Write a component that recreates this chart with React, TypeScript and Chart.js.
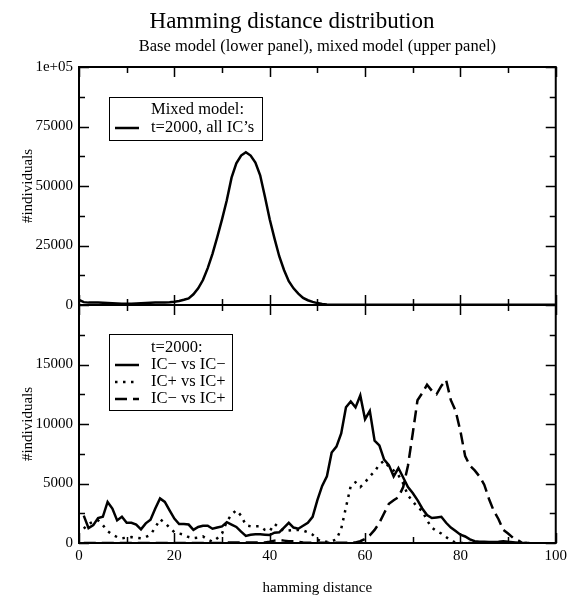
import React, { useEffect, useRef } from 'react';
import { Chart, registerables } from 'chart.js';

Chart.register(...registerables);

const FONT = "'Liberation Serif', 'Times New Roman', serif";

// hamming distance categories 0..100
const hamming: number[] = Array.from({ length: 101 }, (_, i) => i);

// Upper panel: mixed model, t=2000, all IC's
const mixedAll: (number | null)[] = [
  2200, 1200, 1000, 1100, 1000, 900, 800, 700, 600, 500,
  500, 500, 600, 700, 800, 900, 1000, 1000, 1100, 1200,
  1400, 1700, 2200, 2800, 4500, 7000, 10500, 15500, 21500, 28500,
  36000, 44000, 53500, 59500, 62800, 64200, 62800, 59800, 54500, 45500,
  36000, 28000, 20500, 14700, 10000, 7000, 4800, 3000, 2000, 1300,
  800, 400, 250, 150, 100, 100, 100, 100, 100, 100,
  100, 100, 100, 100, 100, 100, 100, 100, 100, 100,
  100, 100, 100, 100, 100, 100, 100, 100, 100, 100,
  100, 100, 100, 100, 100, 100, 100, 100, 100, 100,
  100, 100, 100, 100, 100, 100, 100, 100, 100, 100,
  100,
];

// Lower panel: base model, t=2000
const icMinusVsIcMinus: (number | null)[] = [
  null, 2300, 1250, 1500, 2100, 2200, 3450, 2900, 1900, 2200,
  1700, 1700, 1550, 1150, 1650, 1950, 2900, 3750, 3450, 2750,
  2050, 1600, 1600, 1550, 1100, 1350, 1450, 1450, 1200, 1300,
  1400, 1750, 1550, 1350, 950, 600, 700, 730, 730, 700,
  670, 870, 900, 1300, 1700, 1300, 1200, 1450, 1700, 2200,
  3600, 4800, 5600, 7600, 8100, 9200, 11400, 11900, 11400, 12400,
  10400, 11100, 8600, 8200, 7000, 6550, 5600, 6300, 5500, 4700,
  4200, 3600, 2900, 2350, 2100, 2150, 2200, 1700, 1300, 1000,
  700, 550, 300, 150, 100, 100, 80, 80, 100, 150,
  100, 60, 20, null, null, null, null, null, null, null,
  null,
];

const icPlusVsIcPlus: (number | null)[] = [
  null, 1200, 1600, 1800, 1900, 1500, 1000, 700, 500, 400,
  450, 500, 450, 400, 500, 700, 1300, 2000, 1700, 1300,
  900, 800, 700, 500, 400, 450, 550, 300, 100, 400,
  800, 1800, 2400, 2750, 2300, 1500, 1400, 1400, 1400, 1100,
  1000, 1600, 1300, 1000, 1050, 1100, 1100, 1050, 900, 700,
  300, 100, 100, 150, 300, 1200, 3000, 4800, 5100, 4700,
  5100, 5600, 6000, 6600, 6900, 6400, 6100, 5700, 5000, 4000,
  3500, 3000, 2700, 1900, 1300, 1000, 800, 500, 200, 50,
  0, 0, 0, 0, 0, 0, 0, 0, 0, 0,
  0, 0, 0, 0, 0, 0, null, null, null, null,
  null,
];

const icMinusVsIcPlus: (number | null)[] = [
  null, 0, 0, 0, 0, 0, 0, 0, 0, 0,
  0, 0, 0, 0, 0, 0, 0, 0, 0, 0,
  0, 0, 0, 0, 0, 0, 0, 0, 0, 0,
  0, 50, 50, 50, 50, 50, 50, 50, 50, 50,
  100, 200, 250, 200, 150, 150, 100, 50, 30, 30,
  30, 30, 30, 30, 30, 30, 30, 30, 50, 150,
  350, 650, 1100, 1700, 2500, 3300, 3600, 3850, 4700, 6500,
  9200, 12000, 12600, 13300, 12800, 12500, 13200, 13700, 12000, 11100,
  9400, 7300, 6500, 6100, 5600, 4900, 3700, 2700, 2000, 1100,
  800, 450, 250, 0, 0, 0, null, null, null, null,
  null,
];

const xTickValues = [0, 10, 20, 30, 40, 50, 60, 70, 80, 90, 100];
const upperTickValues = [0, 12500, 25000, 37500, 50000, 62500, 75000, 87500, 100000];
const lowerTickValues = [0, 2500, 5000, 7500, 10000, 12500, 15000, 17500, 20000];

const toPoints = (arr: (number | null)[]) => hamming.map((h, i) => ({ x: h, y: arr[i] }));

const decorPlugin = {
  id: 'decor',
  afterDraw(chart: any) {
    const ctx: CanvasRenderingContext2D = chart.ctx;
    const xs = chart.scales.x;
    const yU = chart.scales.yUpper;
    const yL = chart.scales.yLower;
    const L = xs.left;
    const R = xs.right;
    const cx = (L + R) / 2;
    ctx.save();
    ctx.fillStyle = '#000';
    ctx.strokeStyle = '#000';

    // ticks (inward, on all sides of both panels)
    ctx.lineWidth = 1.5;
    ctx.beginPath();
    const panels = [
      { sc: yU, vals: upperTickValues, major: 25000 },
      { sc: yL, vals: lowerTickValues, major: 5000 },
    ];
    for (const p of panels) {
      for (const v of xTickValues) {
        const px = Math.round(xs.getPixelForValue(v)) + 0.5;
        const len = v % 20 === 0 ? 10 : 6;
        ctx.moveTo(px, p.sc.top);
        ctx.lineTo(px, p.sc.top + len);
        ctx.moveTo(px, p.sc.bottom);
        ctx.lineTo(px, p.sc.bottom - len);
      }
      for (const v of p.vals) {
        const py = Math.round(p.sc.getPixelForValue(v)) + 0.5;
        const len = v % p.major === 0 ? 10 : 6;
        ctx.moveTo(L, py);
        ctx.lineTo(L + len, py);
        ctx.moveTo(R, py);
        ctx.lineTo(R - len, py);
      }
    }
    ctx.stroke();

    // frames
    ctx.lineWidth = 2;
    ctx.strokeRect(L, yU.top, R - L, yU.bottom - yU.top);
    ctx.strokeRect(L, yL.top, R - L, yL.bottom - yL.top);

    // titles
    ctx.textAlign = 'center';
    ctx.textBaseline = 'alphabetic';
    ctx.font = `23px ${FONT}`;
    ctx.fillText('Hamming distance distribution', 292, 28);
    ctx.font = `16.5px ${FONT}`;
    ctx.fillText('Base model (lower panel), mixed model (upper panel)', cx, 51);
    ctx.font = `15px ${FONT}`;
    ctx.textBaseline = 'middle';
    ctx.fillText('hamming distance', cx, 588);

    // y axis titles
    for (const sc of [yU, yL]) {
      ctx.save();
      ctx.translate(28, (sc.top + sc.bottom) / 2);
      ctx.rotate(-Math.PI / 2);
      ctx.textAlign = 'center';
      ctx.textBaseline = 'middle';
      ctx.font = `15px ${FONT}`;
      ctx.fillText('#individuals', 0, 0);
      ctx.restore();
    }

    // legends
    ctx.lineWidth = 1;
    ctx.fillStyle = '#fff';
    ctx.fillRect(109.5, 97.5, 153, 43);
    ctx.strokeRect(109.5, 97.5, 153, 43);
    ctx.fillRect(109.5, 334.5, 123, 76);
    ctx.strokeRect(109.5, 334.5, 123, 76);
    ctx.fillStyle = '#000';
    ctx.textAlign = 'left';
    ctx.textBaseline = 'middle';
    ctx.font = `16.5px ${FONT}`;
    ctx.fillText('Mixed model:', 151, 110);
    ctx.fillText('t=2000, all IC\u2019s', 151, 128);
    ctx.fillText('t=2000:', 151, 348);
    ctx.fillText('IC\u2212 vs IC\u2212', 151, 365);
    ctx.fillText('IC+ vs IC+', 151, 382);
    ctx.fillText('IC\u2212 vs IC+', 151, 399);

    const sample = (y: number, dash: number[]) => {
      ctx.save();
      ctx.lineWidth = 2.5;
      ctx.setLineDash(dash);
      ctx.beginPath();
      ctx.moveTo(115, y);
      ctx.lineTo(139, y);
      ctx.stroke();
      ctx.restore();
    };
    sample(128, []);
    sample(365, []);
    sample(382, [2.5, 5.5]);
    sample(399, [12, 6]);
    ctx.restore();
  },
};

export default function App() {
  const ref = useRef<HTMLCanvasElement>(null);
  useEffect(() => {
    if (!ref.current) return;
    const tickFont = { family: FONT, size: 15 };
    const chart = new Chart(ref.current, {
      type: 'line',
      data: {
        datasets: [
          {
            label: 'Mixed model: t=2000, all IC\u2019s',
            data: toPoints(mixedAll),
            yAxisID: 'yUpper',
            borderColor: '#000',
            borderWidth: 2.5,
            pointRadius: 0,
            tension: 0,
          },
          {
            label: 'IC\u2212 vs IC\u2212',
            data: toPoints(icMinusVsIcMinus),
            yAxisID: 'yLower',
            borderColor: '#000',
            borderWidth: 2.5,
            pointRadius: 0,
            tension: 0,
          },
          {
            label: 'IC+ vs IC+',
            data: toPoints(icPlusVsIcPlus),
            yAxisID: 'yLower',
            borderColor: '#000',
            borderWidth: 2.5,
            borderDash: [2.5, 5.5],
            pointRadius: 0,
            tension: 0,
          },
          {
            label: 'IC\u2212 vs IC+',
            data: toPoints(icMinusVsIcPlus),
            yAxisID: 'yLower',
            borderColor: '#000',
            borderWidth: 2.5,
            borderDash: [12, 6],
            pointRadius: 0,
            tension: 0,
          },
        ],
      },
      options: {
        responsive: false,
        animation: false,
        layout: { padding: { top: 67, right: 13, bottom: 0, left: 0 } },
        plugins: {
          legend: { display: false },
          title: { display: false },
          tooltip: { enabled: false },
        },
        scales: {
          x: {
            type: 'linear',
            min: 0,
            max: 100,
            ticks: { stepSize: 20, padding: 4, font: tickFont, color: '#000', maxRotation: 0 },
            grid: { display: false, drawTicks: false },
            border: { display: false },
            afterFit: (s: any) => { s.height = 57; },
          },
          yLower: {
            type: 'linear',
            position: 'left',
            stack: 'panels',
            stackWeight: 1,
            min: 0,
            max: 20000,
            ticks: {
              stepSize: 5000,
              padding: 6,
              font: tickFont,
              color: '#000',
              callback: (v: any) => (v === 20000 ? '' : String(v)),
            },
            grid: { display: false, drawTicks: false },
            border: { display: false },
            afterFit: (s: any) => { s.width = 79; },
          },
          yUpper: {
            type: 'linear',
            position: 'left',
            stack: 'panels',
            stackWeight: 1,
            min: 0,
            max: 100000,
            ticks: {
              stepSize: 25000,
              padding: 6,
              font: tickFont,
              color: '#000',
              callback: (v: any) => (v === 100000 ? '1e+05' : String(v)),
            },
            grid: { display: false, drawTicks: false },
            border: { display: false },
            afterFit: (s: any) => { s.width = 79; },
          },
        },
      } as any,
      plugins: [decorPlugin],
    });
    return () => chart.destroy();
  }, []);
  return (
    <div style={{ position: 'absolute', left: 0, top: 0, width: 571, height: 600, background: '#fff' }}>
      <canvas ref={ref} width={571} height={600} style={{ display: 'block' }} />
    </div>
  );
}
